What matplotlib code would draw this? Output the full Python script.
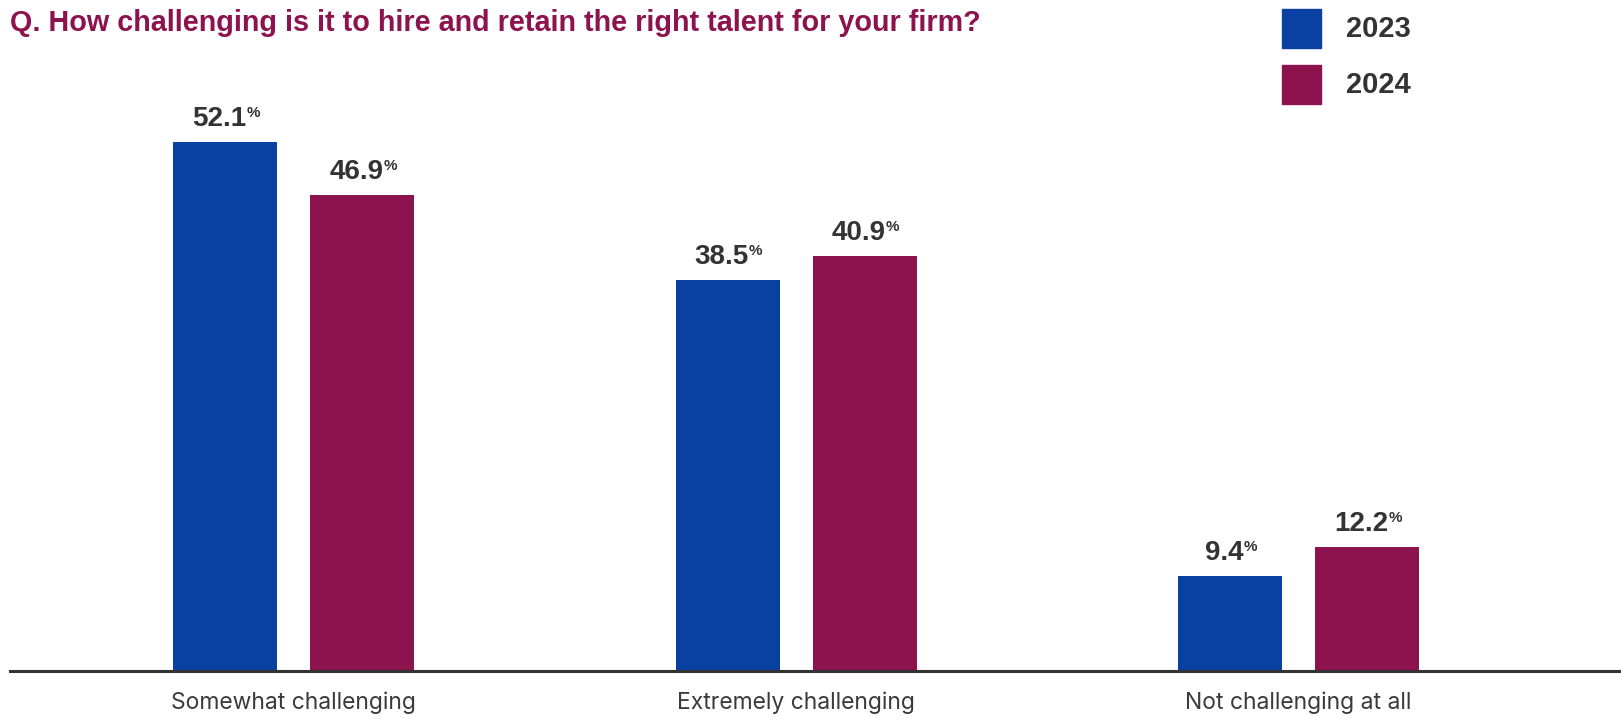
import matplotlib.pyplot as plt
from matplotlib.patches import Rectangle

# survey answers and shares (%)
categories = ["Somewhat challenging", "Extremely challenging", "Not challenging at all"]
years = ["2023", "2024"]
share_2023 = [52.1, 38.5, 9.4]
share_2024 = [46.9, 40.9, 12.2]

blue = "#0B40A3"
plum = "#8C134E"
dark = "#333333"

W, H = 1621, 719
fig = plt.figure(figsize=(W / 100, H / 100), dpi=100)

# axes placed so the baseline sits 48 px above the bottom edge
ax = fig.add_axes([10 / W, 48 / H, 1 - 10 / W, 671 / H])
step = 502.5  # px between group centres
ax.set_xlim(-(293.5 - 10) / step, (W - 293.5) / step)
ax.set_ylim(0, 671 / 10.15)

bw = 104 / step
off = 68.5 / step
x = list(range(len(categories)))

b1 = ax.bar([i - off for i in x], share_2023, width=bw, color=blue, zorder=2)
b2 = ax.bar([i + off for i in x], share_2024, width=bw, color=plum, zorder=2)

for bars, vals in ((b1, share_2023), (b2, share_2024)):
    for rect, v in zip(bars, vals):
        cx = rect.get_x() + rect.get_width() / 2
        num = ax.annotate(f"{v:.1f}", xy=(cx, v), xytext=(-4, 11.5),
                          textcoords="offset points", ha="center", va="baseline",
                          fontsize=20, fontweight="bold", color=dark,
                          family="Liberation Sans")
        ax.annotate("%", xy=(1, 1), xycoords=num, xytext=(0, 0),
                    textcoords="offset points", ha="left", va="top",
                    fontsize=11, fontweight="bold", color=dark,
                    family="Liberation Sans")

# category names under the baseline
for i, c in zip(x, categories):
    ax.text(i, -0.047, c, transform=ax.get_xaxis_transform(), ha="center",
            va="center", fontsize=16.5, color="#3a3a3a", family="Inter")

for s in ("top", "right", "left"):
    ax.spines[s].set_visible(False)
ax.spines["bottom"].set_linewidth(2.2)
ax.spines["bottom"].set_color(dark)
ax.spines["bottom"].set_zorder(3)
ax.set_xticks([])
ax.set_yticks([])

fig.text(10 / W, 1 - 31 / H,
         "Q. How challenging is it to hire and retain the right talent for your firm?",
         ha="left", va="baseline", fontsize=20.7, fontweight="bold", color=plum,
         family="Liberation Sans")

# legend boxes
for k, (yr, col) in enumerate(zip(years, [blue, plum])):
    top = 9 + 56 * k
    fig.patches.append(Rectangle((1282 / W, 1 - (top + 39) / H), 39 / W, 39 / H,
                                 transform=fig.transFigure, color=col))
    fig.text(1346 / W, 1 - (top + 28) / H, yr, ha="left", va="baseline",
             fontsize=21, fontweight="bold", color=dark, family="Liberation Sans")

fig.savefig("out.png", dpi=100)
